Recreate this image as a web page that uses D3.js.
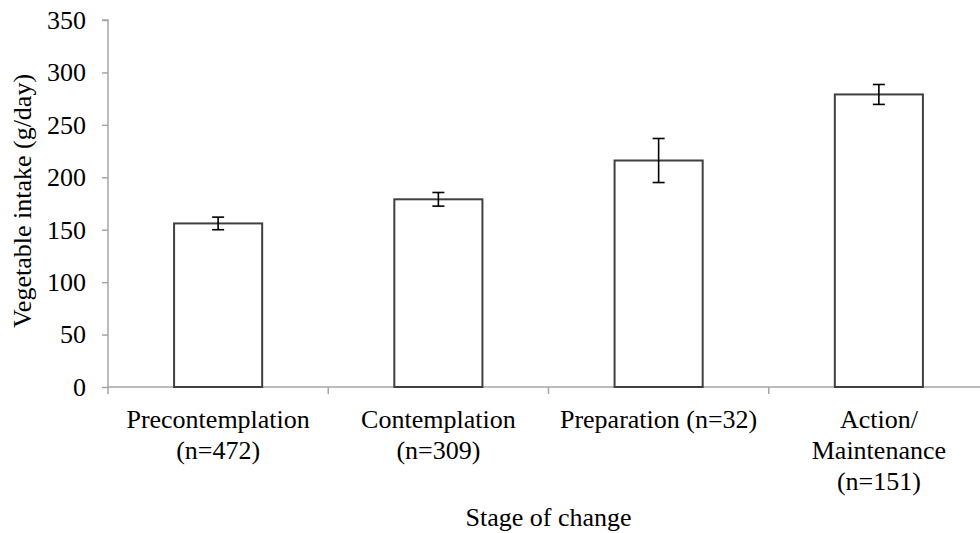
<!DOCTYPE html>
<html><head><meta charset="utf-8">
<script src="https://cdn.jsdelivr.net/npm/d3@7"></script>
</head><body style="margin:0;background:#fff">
<svg id="chart" width="980" height="533" style="display:block;background:#fff"></svg>
<script>
const categories = [["Precontemplation","(n=472)"],["Contemplation","(n=309)"],["Preparation (n=32)"],["Action/","Maintenance","(n=151)"]];
const means = [156, 179, 216, 279];
const errors = [6, 6.5, 21, 9.5];
const yTicks = [0,50,100,150,200,250,300,350];
const yTitle = "Vegetable intake (g/day)";
const xTitle = "Stage of change";

const FONT = '"Liberation Serif"';
const svg = d3.select("#chart");
const x0 = 108, x1 = 989, yTop = 20, yBot = 387;
const keys = categories.map((c,i)=>i);
const x = d3.scaleBand().domain(keys).range([x0,x1]).paddingInner(0.6).paddingOuter(0.3);
const y = d3.scaleLinear().domain([0,350]).range([yBot,yTop]);
const axisColor = "#a6a6a6";
const fs = 26;

// y axis
const yAxis = svg.append("g").attr("transform",`translate(${x0},0)`)
  .call(d3.axisLeft(y).tickValues(yTicks).tickSize(6).tickPadding(16));
yAxis.attr("font-family",null);
yAxis.select(".domain").attr("stroke",axisColor).attr("stroke-width",1.5).attr("d",`M-6,${y(350)}H0V${yBot}`);
yAxis.selectAll(".tick line").attr("stroke",axisColor).attr("stroke-width",1.5);
yAxis.selectAll(".tick text").style("font-family",FONT).style("font-size",fs+"px").attr("fill","#000");

// x axis line and ticks at band boundaries
const bounds = keys.map(k=>x(k)-x.step()*0.3).concat([x1]);
svg.append("line").attr("x1",x0).attr("x2",980).attr("y1",yBot).attr("y2",yBot).attr("stroke",axisColor).attr("stroke-width",1.5);
svg.selectAll(".xt").data(bounds).join("line").attr("class","xt")
  .attr("x1",d=>d).attr("x2",d=>d).attr("y1",yBot).attr("y2",yBot+7).attr("stroke",axisColor).attr("stroke-width",1.5);

// bars
svg.selectAll(".bar").data(means).join("rect").attr("class","bar")
  .attr("x",(d,i)=>x(i)).attr("width",x.bandwidth())
  .attr("y",d=>y(d)).attr("height",d=>yBot-y(d))
  .attr("fill","#fff").attr("stroke","#404040").attr("stroke-width",2);

// error bars
const eb = svg.selectAll(".eb").data(means).join("g").attr("class","eb");
eb.append("line").attr("x1",(d,i)=>x(i)+x.bandwidth()/2).attr("x2",(d,i)=>x(i)+x.bandwidth()/2)
  .attr("y1",(d,i)=>y(d+errors[i])).attr("y2",(d,i)=>y(d-errors[i])).attr("stroke","#000").attr("stroke-width",1.6);
[1,-1].forEach(s=>{
  eb.append("line").attr("x1",(d,i)=>x(i)+x.bandwidth()/2-6).attr("x2",(d,i)=>x(i)+x.bandwidth()/2+6)
    .attr("y1",(d,i)=>y(d+s*errors[i])).attr("y2",(d,i)=>y(d+s*errors[i])).attr("stroke","#000").attr("stroke-width",1.6);
});

// category labels
categories.forEach((lines,i)=>{
  const t = svg.append("text").attr("text-anchor","middle").style("font-family",FONT).style("font-size",fs+"px").attr("fill","#000");
  lines.forEach((l,j)=>t.append("tspan").attr("x",x(i)+x.bandwidth()/2).attr("y",428+j*31).text(l));
});

// titles
svg.append("text").attr("x",(x0+x1)/2).attr("y",526).attr("text-anchor","middle").style("font-family",FONT).style("font-size",fs+"px").attr("fill","#000").text(xTitle);
svg.append("text").attr("transform",`translate(31,${201}) rotate(-90)`).attr("text-anchor","middle").style("font-family",FONT).style("font-size",fs+"px").attr("fill","#000").text(yTitle);
</script>
</body></html>
